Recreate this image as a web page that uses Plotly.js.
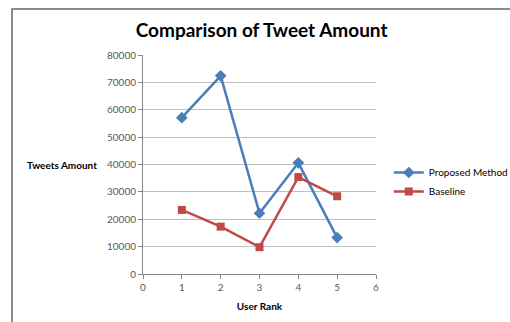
<!DOCTYPE html>
<html><head><meta charset="utf-8">
<script src="https://cdn.plot.ly/plotly-3.0.1.min.js"></script>
<style>
html,body{margin:0;padding:0;background:#fff;}
#wrap{position:relative;width:510px;height:322px;overflow:hidden;}
#chart{position:absolute;left:0;top:0;width:510px;height:322px;}
#frame{position:absolute;left:11px;top:8px;width:520px;height:330px;border-left:2px solid #8c8c8c;border-top:2px solid #8c8c8c;pointer-events:none;}
</style></head>
<body>
<div id="wrap"><div id="chart"></div><div id="frame"></div></div>
<script>
const userRank = [1, 2, 3, 4, 5];
const proposed = [57100, 72400, 22200, 40600, 13300];
const baseline = [23400, 17300, 9800, 35400, 28400];
const xTicks = [0, 1, 2, 3, 4, 5, 6];
const yTicks = [0, 10000, 20000, 30000, 40000, 50000, 60000, 70000, 80000];

const traces = [
  {x: userRank, y: proposed, name: 'Proposed Method', type: 'scatter', mode: 'lines+markers',
   line: {color: '#4a7ebb', width: 2.5}, marker: {symbol: 'diamond', size: 9, color: '#4a7ebb'}},
  {x: userRank, y: baseline, name: 'Baseline', type: 'scatter', mode: 'lines+markers',
   line: {color: '#be4b48', width: 2.5}, marker: {symbol: 'square', size: 8, color: '#be4b48'}}
];
const tickFont = {family: 'Lato, "Open Sans", sans-serif', size: 10, color: '#595959'};
const layout = {
  width: 510, height: 322,
  margin: {l: 143, r: 134, t: 55, b: 48, autoexpand: false},
  paper_bgcolor: '#fff', plot_bgcolor: '#fff',
  title: {text: '<b>Comparison of Tweet Amount</b>', x: 0.513, xanchor: 'center', y: 0.905, yanchor: 'middle',
          font: {family: 'Lato, "Open Sans", sans-serif', size: 19, color: '#000'}},
  xaxis: {range: [0, 6], tickvals: xTicks, ticktext: xTicks.map(String), showgrid: false, zeroline: false,
          showline: true, linecolor: '#868686', linewidth: 1, ticks: 'outside', ticklen: 4, tickcolor: '#868686',
          tickfont: tickFont, fixedrange: true,
          title: {text: '<b>User Rank</b>', font: {family: 'Lato, "Open Sans", sans-serif', size: 10, color: '#000'}, standoff: 10}},
  yaxis: {range: [0, 80000], tickvals: yTicks, ticktext: yTicks.map(String), showgrid: true, gridcolor: '#bfbfbf', gridwidth: 1,
          zeroline: false, showline: true, linecolor: '#868686', linewidth: 1, ticks: 'outside', ticklen: 4, tickcolor: '#868686',
          tickfont: tickFont, fixedrange: true},
  legend: {x: 1.055, xanchor: 'left', y: 0.42, yanchor: 'middle',
           font: {family: 'Lato, "Open Sans", sans-serif', size: 10, color: '#000'},
           itemwidth: 30, bgcolor: 'rgba(0,0,0,0)'},
  annotations: [{text: '<b>Tweets Amount</b>', xref: 'paper', yref: 'paper', x: -0.19, y: 0.5, xanchor: 'right', yanchor: 'middle',
                 showarrow: false, font: {family: 'Lato, "Open Sans", sans-serif', size: 10, color: '#000'}}],
  showlegend: true
};
Plotly.newPlot('chart', traces, layout, {displayModeBar: false, staticPlot: true});
</script>
</body></html>
